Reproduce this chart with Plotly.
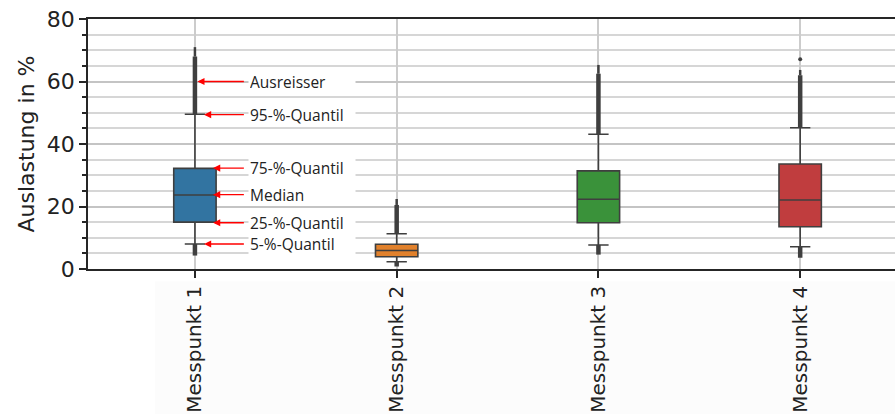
import plotly.graph_objects as go

# ---- data ----
categories = ["Messpunkt 1", "Messpunkt 2", "Messpunkt 3", "Messpunkt 4"]
q1 = [15.0, 3.9, 14.8, 13.5]
median = [23.7, 5.9, 22.3, 22.1]
q3 = [32.2, 7.9, 31.4, 33.6]
p05 = [8.0, 2.3, 7.7, 7.1]
p95 = [49.5, 11.3, 43.1, 45.2]
outlier_dense_top = [68.0, 20.5, 62.5, 62.0]
outlier_max = [71.0, 22.4, 65.3, 63.7]
outlier_min = [4.3, 0.8, 4.6, 3.6]
extra_outliers = [[], [], [], [67.1]]
colors = ["#3274a1", "#e1812c", "#3a923a", "#c03d3e"]

ann_labels = ["Ausreisser", "95-%-Quantil", "75-%-Quantil", "Median", "25-%-Quantil", "5-%-Quantil"]
ann_values = [60.0, 49.4, 32.3, 23.8, 14.8, 8.0]
ann_heads = [0.012, 0.045, 0.09, 0.09, 0.09, 0.045]

edge = "#3f3f3f"

fig = go.Figure()

# background strip behind the x labels (as in the reference image)
fig.add_shape(type="rect", xref="paper", yref="paper", x0=0.083, x1=1.0, y0=-0.05, y1=-0.6,
              fillcolor="#fcfcfc", line_width=0, layer="below")

for i, c in enumerate(categories):
    fig.add_trace(go.Box(
        x=[c], q1=[q1[i]], median=[median[i]], q3=[q3[i]],
        lowerfence=[p05[i]], upperfence=[p95[i]],
        width=0.21, whiskerwidth=0.48,
        fillcolor=colors[i], line=dict(color=edge, width=1.6),
        showlegend=False, hoverinfo="skip"))
    # dense outliers (upper and lower)
    fig.add_trace(go.Scatter(x=[c, c], y=[p95[i], outlier_dense_top[i]], mode="lines",
                             line=dict(color=edge, width=4.5), showlegend=False, hoverinfo="skip"))
    fig.add_trace(go.Scatter(x=[c, c], y=[outlier_dense_top[i], outlier_max[i]], mode="lines",
                             line=dict(color=edge, width=2.5), showlegend=False, hoverinfo="skip"))
    fig.add_trace(go.Scatter(x=[c, c], y=[outlier_min[i], p05[i]], mode="lines",
                             line=dict(color=edge, width=4.5), showlegend=False, hoverinfo="skip"))
    if extra_outliers[i]:
        fig.add_trace(go.Scatter(x=[c] * len(extra_outliers[i]), y=extra_outliers[i], mode="markers",
                                 marker=dict(color=edge, size=4), showlegend=False, hoverinfo="skip"))

# annotations with red arrows
for lab, val, hx in zip(ann_labels, ann_values, ann_heads):
    fig.add_annotation(x=hx, y=val, xref="x", yref="y", ax=0.25, ay=val, axref="x", ayref="y",
                       text="", showarrow=True, arrowhead=2, arrowsize=1.1, arrowwidth=1.3,
                       arrowcolor="#ff0000")
    fig.add_annotation(x=0.263, y=val, xref="x", yref="y", text=lab, showarrow=False,
                       xanchor="left", yanchor="middle", align="left", width=104, height=18,
                       bgcolor="white", font=dict(family="Open Sans", size=15.5, color="#222222"))

fig.update_layout(
    width=895, height=414,
    margin=dict(l=88, r=0, t=19, b=145),
    paper_bgcolor="white", plot_bgcolor="white",
    font=dict(family="DejaVu Sans", color="#222222"),
    xaxis=dict(type="category", categoryorder="array", categoryarray=categories,
               range=[-0.53, 3.47], showgrid=True, gridcolor="#cccccc", gridwidth=2,
               showline=True, linecolor="#262626", linewidth=1.5, mirror=True,
               ticks="outside", ticklen=7, tickcolor="#262626", tickwidth=1.5, automargin=False,
               tickangle=-90, tickfont=dict(size=20, family="DejaVu Sans", color="#222222")),
    yaxis=dict(range=[0, 80], tickvals=[0, 20, 40, 60, 80], showgrid=True,
               gridcolor="#c4c4c4", gridwidth=2, automargin=False,
               minor=dict(dtick=5, showgrid=True, gridcolor="#d6d6d6", gridwidth=2,
                          ticks="outside", ticklen=4, tickcolor="#262626"),
               showline=True, linecolor="#262626", linewidth=1.5, zeroline=False,
               ticks="outside", ticklen=7, tickcolor="#262626", tickwidth=1.5,
               tickfont=dict(size=22, family="DejaVu Sans", color="#222222"),
               title=dict(text="Auslastung in %", font=dict(size=22, family="DejaVu Sans"),
                          standoff=6)),
)

fig.write_html("out.html")
